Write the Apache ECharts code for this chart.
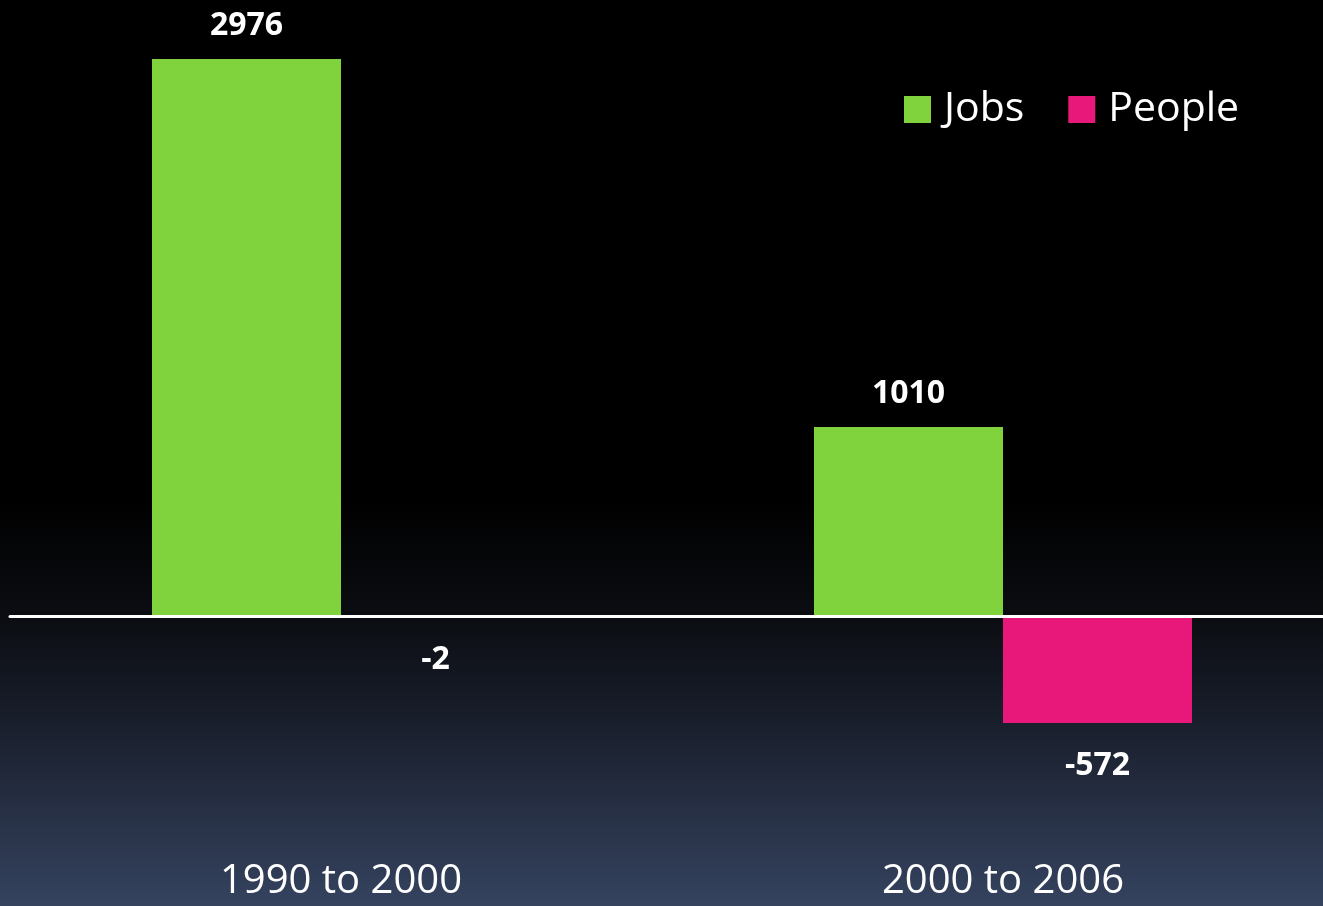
<!DOCTYPE html>
<html>
<head>
<meta charset="utf-8">
<script src="https://cdn.jsdelivr.net/npm/echarts@6/dist/echarts.min.js"></script>
<style>
html,body{margin:0;padding:0;background:#000;}
#chart{width:1323px;height:906px;}
</style>
</head>
<body>
<div id="chart"></div>
<script>
var categories = ['1990 to 2000', '2000 to 2006'];
var jobs = [2976, 1010];
var people = [-2, -572];
var seriesNames = ['Jobs', 'People'];

var chart = echarts.init(document.getElementById('chart'), null, {renderer: 'canvas'});
var font = '"Open Sans", "DejaVu Sans", sans-serif';
var option = {
  backgroundColor: {
    type: 'linear', x: 0, y: 0, x2: 0, y2: 1,
    colorStops: [
      {offset: 0, color: '#000000'},
      {offset: 0.55, color: '#000000'},
      {offset: 0.68, color: '#0b0d12'},
      {offset: 0.82, color: '#1c2231'},
      {offset: 1, color: '#35435f'}
    ]
  },
  animation: false,
  grid: {left: 10, width: 1324, top: 54.5, height: 748.7, containLabel: false, outerBoundsMode: 'none'},
  legend: {
    data: seriesNames,
    left: 904, top: 89, padding: 0,
    icon: 'rect', itemWidth: 27, itemHeight: 27, itemGap: 44,
    textStyle: {color: '#ffffff', fontSize: 41, fontFamily: font, padding: [0, 0, 0, 8]}
  },
  xAxis: [
    {
      type: 'category',
      data: categories,
      z: 5,
      axisLine: {onZero: true, lineStyle: {color: '#ffffff', width: 3}},
      axisTick: {show: false},
      axisLabel: {show: false}
    },
    {
      type: 'category',
      data: categories,
      position: 'bottom',
      axisLine: {show: false, onZero: false},
      axisTick: {show: false},
      axisLabel: {color: '#ffffff', fontSize: 40, fontFamily: font, margin: 58}
    }
  ],
  yAxis: {
    type: 'value', min: -1000, max: 3000, show: false,
    splitLine: {show: false}
  },
  series: [
    {
      name: seriesNames[0], type: 'bar', data: jobs,
      barWidth: 189, barGap: '0%',
      itemStyle: {color: '#80d33c'},
      label: {show: true, position: 'top', distance: 17, color: '#ffffff',
        fontSize: 32, fontWeight: 'bold', fontFamily: font}
    },
    {
      name: seriesNames[1], type: 'bar', data: people,
      barWidth: 189, barGap: '0%',
      itemStyle: {color: '#e8177a'},
      label: {show: true, position: 'bottom', distance: 27, color: '#ffffff',
        fontSize: 32, fontWeight: 'bold', fontFamily: font}
    }
  ]
};
chart.setOption(option);
</script>
</body>
</html>
